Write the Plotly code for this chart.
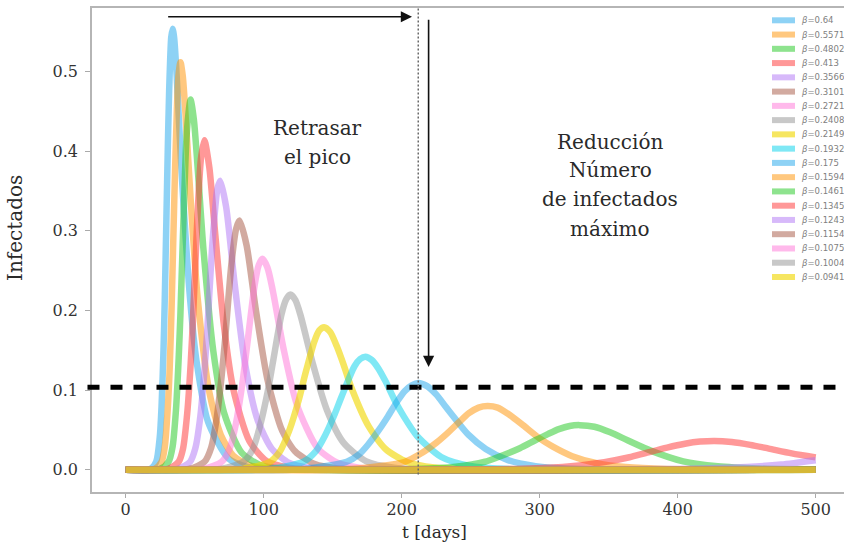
import plotly.graph_objects as go

# ---------------- data ----------------
beta_labels = ["0.64", "0.5571", "0.4802", "0.413", "0.3566", "0.3101", "0.2721",
               "0.2408", "0.2149", "0.1932", "0.175", "0.1594", "0.1461", "0.1345",
               "0.1243", "0.1154", "0.1075", "0.1004", "0.0941"]

t_b0640 = [0, 18, 22.1, 24.7, 26.0, 27.4, 28.3, 29.5, 30.6, 31.5, 32.3, 33.0, 34.0, 35.1, 36.6, 38.2, 41.1, 46.8, 51.3, 59.7, 74.5, 89, 104, 500]
i_b0640 = [0, .001, .010, .041, .080, .150, .212, .315, .410, .476, .518, .543, .554, .543, .506, .453, .357, .212, .137, .060, .014, .0033, .0008, 0]

t_b0557 = [0, 21, 26, 28.3, 30.5, 31.9, 33.3, 35.3, 37.1, 38.2, 39.7, 41.4, 43.7, 47.0, 52.2, 60.8, 68.9, 78.3, 89.7, 104.7, 500]
i_b0557 = [0, .001, .010, .028, .077, .128, .205, .344, .453, .494, .512, .494, .437, .342, .215, .096, .044, .017, .0056, .0013, 0]

t_b0480 = [0, 25, 31.1, 34.0, 36.4, 38.4, 39.7, 42.1, 44.3, 47.0, 49.4, 52.5, 56.4, 63.5, 71.4, 83.8, 97, 112, 500]
i_b0480 = [0, .001, .010, .029, .074, .140, .197, .326, .424, .465, .440, .371, .276, .149, .071, .022, .0062, .0015, 0]

t_b0413 = [0, 31, 38.4, 41.5, 44.6, 47.1, 48.7, 51.7, 54.5, 57.0, 60.6, 64.9, 71.0, 78.0, 89.6, 102, 117, 132, 500]
i_b0413 = [0, .001, .010, .026, .071, .133, .187, .306, .390, .414, .380, .296, .184, .101, .036, .011, .0028, .0007, 0]

t_b0357 = [0, 37.7, 46.7, 50.5, 54.1, 57.1, 59.1, 62.8, 66.4, 68.5, 72.8, 78.8, 86.6, 95.7, 106.0, 118.5, 133.5, 148.5, 500]
i_b0357 = [0, .001, .010, .027, .067, .125, .175, .283, .352, .363, .330, .236, .132, .062, .026, .0084, .0022, .0006, 0]

t_b0310 = [0, 46.1, 57.1, 62.0, 65.8, 69.5, 72.0, 76.6, 80.1, 82.5, 87.6, 94.4, 102.9, 113.4, 122.8, 137.5, 152.5, 167.5, 500]
i_b0310 = [0, .001, .010, .028, .063, .117, .163, .258, .303, .313, .282, .200, .112, .049, .023, .0067, .0019, .0005, 0]

t_b0272 = [0, 56.3, 69.6, 75.2, 79.9, 84.5, 87.5, 93.4, 96.4, 99.2, 102.7, 106.5, 114.4, 124.2, 139.1, 154.2, 169.2, 189.2, 500]
i_b0272 = [0, .001, .010, .026, .058, .108, .149, .231, .257, .265, .254, .226, .152, .081, .027, .008, .0025, .0005, 0]

t_b0241 = [0, 68.9, 85.3, 91.9, 97.2, 102.9, 106.7, 112.9, 116.3, 119.4, 123.0, 126.7, 135.5, 145.8, 157.8, 174.4, 194.4, 214.4, 500]
i_b0241 = [0, .001, .010, .025, .054, .098, .135, .195, .214, .220, .213, .194, .134, .075, .034, .0105, .0025, .0006, 0]

t_b0215 = [0, 84.6, 104.7, 111.8, 118.5, 125.5, 130.1, 136.7, 140.3, 143.8, 148.2, 153.0, 157.9, 163.8, 176.2, 188.3, 203.8, 223.8, 243.8, 500]
i_b0215 = [0, .001, .010, .023, .049, .088, .120, .161, .175, .179, .173, .155, .132, .102, .054, .026, .0098, .0027, .0008, 0]

t_b0193 = [0, 104.1, 128.8, 137.7, 144.5, 151.5, 156.5, 165.8, 169.9, 173.7, 178.2, 182.8, 188.3, 194.7, 201.5, 211.3, 228.7, 248.7, 273.7, 500]
i_b0193 = [0, .001, .010, .023, .043, .070, .092, .130, .139, .142, .138, .128, .111, .088, .067, .042, .016, .0051, .0012, 0]

t_b0175 = [0, 129.5, 160.2, 169.0, 175.4, 183.9, 190.0, 196.8, 202.3, 207.3, 212.0, 218.4, 225.3, 231.9, 240.1, 248.3, 260.9, 277, 297, 322, 500]
i_b0175 = [0, .001, .010, .019, .031, .051, .067, .086, .099, .106, .109, .105, .094, .079, .061, .044, .026, .012, .0044, .0013, 0]

t_b0159 = [0, 163.7, 202.4, 214.6, 225.2, 232.6, 241.7, 248.7, 255.7, 262.2, 269.5, 277.3, 287.2, 300.2, 309.5, 323.6, 342.2, 362.2, 392.2, 500]
i_b0159 = [0, .001, .010, .021, .034, .045, .060, .071, .078, .080, .078, .070, .057, .039, .029, .017, .0078, .0033, .0009, 0]

t_b0146 = [0, 210.4, 239.0, 260.4, 268.6, 285.6, 296.8, 306.2, 313.9, 321.7, 329.0, 339.6, 351.1, 363.6, 380.4, 404, 429, 459, 489, 500]
i_b0146 = [0, .001, .0037, .010, .015, .027, .037, .045, .051, .055, .056, .054, .047, .037, .024, .0105, .0043, .0015, .0005, .0003]

t_b0135 = [0, 281.5, 316.5, 346.8, 365.0, 376.7, 392.3, 405.2, 416.2, 426.5, 439.1, 452.6, 466.0, 482.6, 500]
i_b0135 = [0, .001, .0034, .0095, .0156, .0209, .0278, .0326, .0353, .0362, .0348, .0312, .0265, .0205, .0155]

t_b0124 = [0, 350, 400, 450, 475, 500]
i_b0124 = [0, .0003, .001, .0035, .0065, .012]

t_b0115 = [0, 500]
i_b0115 = [0, 0]
t_b0108 = [0, 500]
i_b0108 = [0, 0]
t_b0100 = [0, 500]
i_b0100 = [0, 0]
t_b0094 = [0, 500]
i_b0094 = [0, 0]

x_ticks = [0, 100, 200, 300, 400, 500]
y_ticks = [0.0, 0.1, 0.2, 0.3, 0.4, 0.5]
y_tick_text = ["0.0", "0.1", "0.2", "0.3", "0.4", "0.5"]

threshold = 0.1036     # dashed reference level
peak_day = 212         # dotted vertical line

series_t = [t_b0640, t_b0557, t_b0480, t_b0413, t_b0357, t_b0310, t_b0272, t_b0241, t_b0215, t_b0193,
            t_b0175, t_b0159, t_b0146, t_b0135, t_b0124, t_b0115, t_b0108, t_b0100, t_b0094]
series_i = [i_b0640, i_b0557, i_b0480, i_b0413, i_b0357, i_b0310, i_b0272, i_b0241, i_b0215, i_b0193,
            i_b0175, i_b0159, i_b0146, i_b0135, i_b0124, i_b0115, i_b0108, i_b0100, i_b0094]

# ---------------- style ----------------
palette = [(30, 165, 235), (255, 145, 0), (30, 200, 30), (255, 50, 50), (175, 115, 245),
           (165, 85, 65), (255, 115, 215), (145, 145, 145), (240, 215, 0), (0, 210, 235)]
alphas = [0.5, 0.5, 0.5, 0.5, 0.5, 0.5, 0.5, 0.5, 0.62, 0.5]
SERIF = "DejaVu Serif"
TXT = "#2a2a2a"

def rgba(k):
    r, g, b = palette[k % 10]
    return f"rgba({r},{g},{b},{alphas[k % 10]})"

fig = go.Figure()
for k, (tt, ii) in enumerate(zip(series_t, series_i)):
    fig.add_trace(go.Scatter(
        x=tt, y=ii, mode="lines", name="β=" + beta_labels[k],
        line=dict(color=rgba(k), width=6.5, shape="spline", smoothing=0.7),
        showlegend=False, hoverinfo="skip"))

# plot-area geometry (pixels) for legend placement
L, R, T, B = 92, 844, 8, 492
def px_x(p):
    return (p - L) / (R - L)
def px_y(p):
    return (B - p) / (B - T)

shapes = []
annotations = []

# reference lines
shapes.append(dict(type="line", xref="paper", yref="y", x0=-0.006, x1=1.0, y0=threshold, y1=threshold,
                   line=dict(color="black", width=5, dash="12px,11px")))
shapes.append(dict(type="line", xref="x", yref="y", x0=peak_day, x1=peak_day, y0=-0.006, y1=0.58,
                   line=dict(color="#6a6a6a", width=1.5, dash="2px,2px")))

# arrows
annotations.append(dict(x=207.5, y=0.569, ax=29.7, ay=0.569, xref="x", yref="y", axref="x", ayref="y",
                        text="", showarrow=True, arrowhead=2, arrowsize=1.4, arrowwidth=1.6, arrowcolor="#111"))
annotations.append(dict(x=219.5, y=0.129, ax=219.5, ay=0.567, xref="x", yref="y", axref="x", ayref="y",
                        text="", showarrow=True, arrowhead=2, arrowsize=1.4, arrowwidth=1.6, arrowcolor="#111"))

# text labels
def txt(x, y, s, size=20):
    annotations.append(dict(x=x, y=y, xref="x", yref="y", text=s, showarrow=False,
                            font=dict(family=SERIF, size=size, color=TXT), xanchor="center", yanchor="middle"))
txt(139.2, 0.429, "Retrasar")
txt(139.2, 0.393, "el pico")
txt(351, 0.412, "Reducción")
txt(351, 0.376, "Número")
txt(351, 0.340, "de infectados")
txt(351, 0.303, "máximo")

# axis titles
annotations.append(dict(x=px_x(434), y=px_y(532), xref="paper", yref="paper", text="t [days]", showarrow=False,
                        font=dict(family=SERIF, size=17, color=TXT), xanchor="center", yanchor="middle"))
annotations.append(dict(x=px_x(15), y=px_y(228), xref="paper", yref="paper", text="Infectados", showarrow=False,
                        textangle=-90, font=dict(family=SERIF, size=20, color=TXT), xanchor="center", yanchor="middle"))

# compact legend (top right)
for k, lab in enumerate(beta_labels):
    cy = 20.3 + 14.26 * k
    shapes.append(dict(type="rect", xref="paper", yref="paper", x0=px_x(772), x1=px_x(795),
                       y0=px_y(cy + 3), y1=px_y(cy - 3), fillcolor=rgba(k), line=dict(width=0)))
    annotations.append(dict(x=px_x(799), y=px_y(cy), xref="paper", yref="paper", text="<i>β</i>=" + lab,
                            showarrow=False, xanchor="left", yanchor="middle",
                            font=dict(family="DejaVu Sans", size=8.5, color="#808080")))

fig.update_layout(
    width=844, height=542, margin=dict(l=L, r=844 - R, t=T, b=542 - B),
    paper_bgcolor="white", plot_bgcolor="white", showlegend=False,
    shapes=shapes, annotations=annotations,
    xaxis=dict(range=[-24.4, 520.5], tickvals=x_ticks, ticks="outside", ticklen=4, tickcolor="#aaaaaa",
               showline=True, linecolor="#b5b5b5", linewidth=1.5, mirror=True, showgrid=False, zeroline=False,
               ticklabelstandoff=-2,
               tickfont=dict(family=SERIF, size=16, color="#333333")),
    yaxis=dict(range=[-0.028, 0.580], tickvals=y_ticks, ticktext=y_tick_text, ticks="outside", ticklen=5,
               tickcolor="#aaaaaa", showline=True, linecolor="#b5b5b5", linewidth=1.5, showgrid=False,
               zeroline=False, ticklabelstandoff=4, tickfont=dict(family=SERIF, size=16, color="#333333")),
)

fig.write_html("out.html", config={"displayModeBar": False},
               post_script="document.body.style.margin='0';document.body.style.overflow='hidden';")
